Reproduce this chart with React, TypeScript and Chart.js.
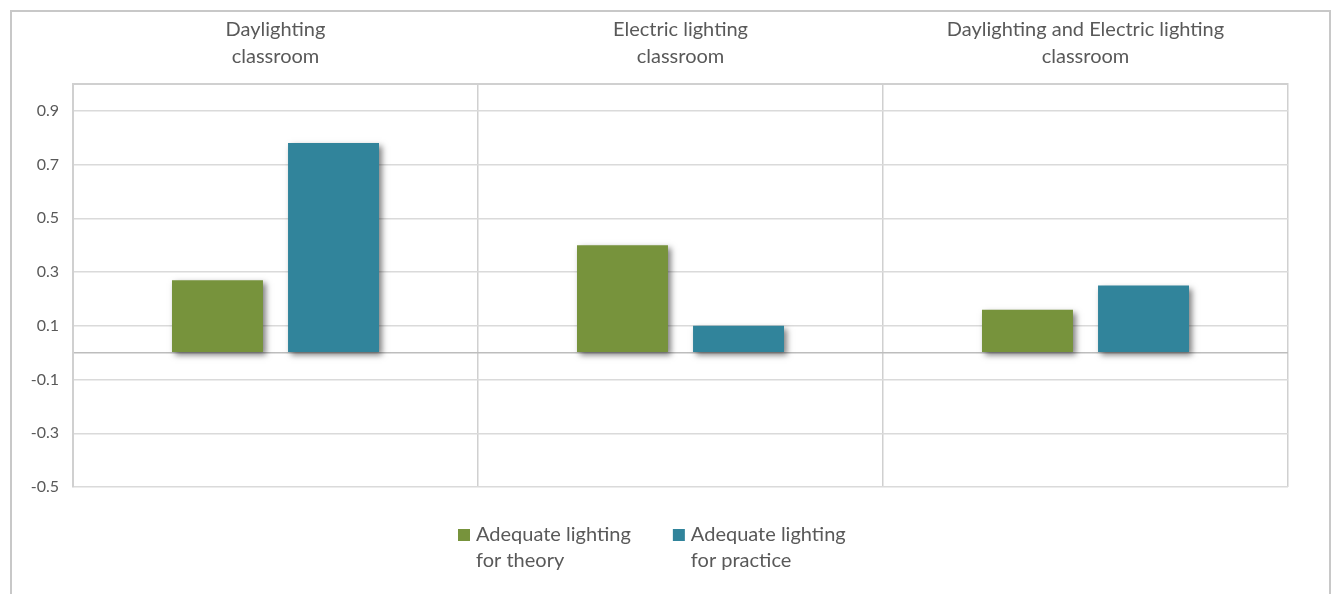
import React, { useEffect, useRef } from 'react';
import { Chart, registerables } from 'chart.js';

Chart.register(...registerables);

const categories: string[][] = [
  ['Daylighting', 'classroom'],
  ['Electric lighting', 'classroom'],
  ['Daylighting and Electric lighting', 'classroom'],
];
const theoryValues = [0.27, 0.40, 0.16];
const practiceValues = [0.78, 0.10, 0.25];
const seriesNames: string[][] = [
  ['Adequate lighting', 'for theory'],
  ['Adequate lighting', 'for practice'],
];
const seriesColors = ['#77933C', '#31849B'];
const yTickValues = [-0.5, -0.3, -0.1, 0, 0.1, 0.3, 0.5, 0.7, 0.9, 1.0];
const yMin = -0.5;
const yMax = 1.0;

const FONT = 'Lato, "Open Sans", sans-serif';
const TEXT = '#595959';

const framePlugin = {
  id: 'frame',
  beforeDraw(chart: any) {
    const ctx = chart.ctx;
    ctx.save();
    ctx.fillStyle = '#ffffff';
    ctx.fillRect(0, 0, chart.width, chart.height);
    ctx.strokeStyle = '#c8c8c8';
    ctx.lineWidth = 2;
    ctx.strokeRect(11, 11, chart.width - 13, chart.height + 20);
    ctx.restore();
  },
};

const shadowPlugin = {
  id: 'barShadow',
  beforeDatasetsDraw(chart: any) {
    const ctx = chart.ctx;
    ctx.save();
    ctx.shadowColor = 'rgba(0,0,0,0.5)';
    ctx.shadowBlur = 6;
    ctx.shadowOffsetX = 3;
    ctx.shadowOffsetY = 3;
  },
  afterDatasetsDraw(chart: any) {
    chart.ctx.restore();
  },
};

const legendPlugin = {
  id: 'multiLineLegend',
  afterDraw(chart: any) {
    const ctx = chart.ctx;
    ctx.save();
    ctx.font = `20px ${FONT}`;
    ctx.textBaseline = 'middle';
    ctx.textAlign = 'left';
    const box = 12;
    const gap = 6;
    const spacing = 42;
    let x = 458;
    const y0 = 535;
    const lh = 26;
    chart.data.datasets.forEach((ds: any) => {
      const lines: string[] = ds.legendLines;
      const w = Math.max(...lines.map((l) => ctx.measureText(l).width));
      ctx.fillStyle = ds.backgroundColor;
      ctx.fillRect(x, y0 - box / 2, box, box);
      ctx.fillStyle = TEXT;
      lines.forEach((line: string, j: number) => {
        ctx.fillText(line, x + box + gap, y0 + j * lh);
      });
      x += box + gap + w + spacing;
    });
    ctx.restore();
  },
};

export default function App() {
  const ref = useRef<HTMLCanvasElement | null>(null);

  useEffect(() => {
    if (!ref.current) return;
    const chart = new Chart(ref.current, {
      type: 'bar',
      data: {
        labels: categories,
        datasets: [
          {
            label: seriesNames[0].join(' '),
            legendLines: seriesNames[0],
            data: theoryValues,
            backgroundColor: seriesColors[0],
            categoryPercentage: 0.573,
            barPercentage: 0.784,
          } as any,
          {
            label: seriesNames[1].join(' '),
            legendLines: seriesNames[1],
            data: practiceValues,
            backgroundColor: seriesColors[1],
            categoryPercentage: 0.573,
            barPercentage: 0.784,
          } as any,
        ],
      },
      options: {
        animation: false,
        responsive: false,
        maintainAspectRatio: false,
        layout: { padding: { top: 0, left: 0, right: 44, bottom: 107 } },
        plugins: {
          legend: { display: false },
          tooltip: { enabled: false },
        },
        scales: {
          x: {
            position: 'top',
            offset: true,
            grid: {
              offset: true,
              color: '#d0d0d0',
              lineWidth: 1.5,
              drawTicks: false,
            },
            border: { display: true, color: '#d0d0d0', width: 2 },
            ticks: {
              color: TEXT,
              font: { family: FONT, size: 20, lineHeight: 1.35 },
              padding: 14,
              autoSkip: false,
              maxRotation: 0,
              minRotation: 0,
            },
            afterFit(scale: any) {
              scale.height = 84;
            },
          },
          y: {
            min: yMin,
            max: yMax,
            afterBuildTicks(scale: any) {
              scale.ticks = yTickValues.map((v) => ({ value: v }));
            },
            afterFit(scale: any) {
              scale.width = 73;
            },
            grid: {
              drawTicks: false,
              lineWidth: 1.5,
              color: (c: any) => {
                const v = c.tick ? c.tick.value : null;
                if (v === 0) return '#bdbdbd';
                if (v === yMax) return 'rgba(0,0,0,0)';
                return '#dadada';
              },
            },
            border: { display: true, color: '#d0d0d0', width: 2 },
            ticks: {
              color: TEXT,
              font: { family: FONT, size: 16 },
              padding: 14,
              autoSkip: false,
              callback: (v: any) => {
                const n = Number(v);
                if (Math.abs(n) < 1e-9 || Math.abs(n - yMax) < 1e-9) return '';
                return n.toFixed(1);
              },
            },
          },
        },
      } as any,
      plugins: [framePlugin, shadowPlugin, legendPlugin],
    });
    return () => chart.destroy();
  }, []);

  return (
    <div style={{ position: 'absolute', left: 0, top: 0, width: 1332, height: 594 }}>
      <canvas ref={ref} width={1332} height={594} style={{ display: 'block', width: 1332, height: 594 }} />
    </div>
  );
}
